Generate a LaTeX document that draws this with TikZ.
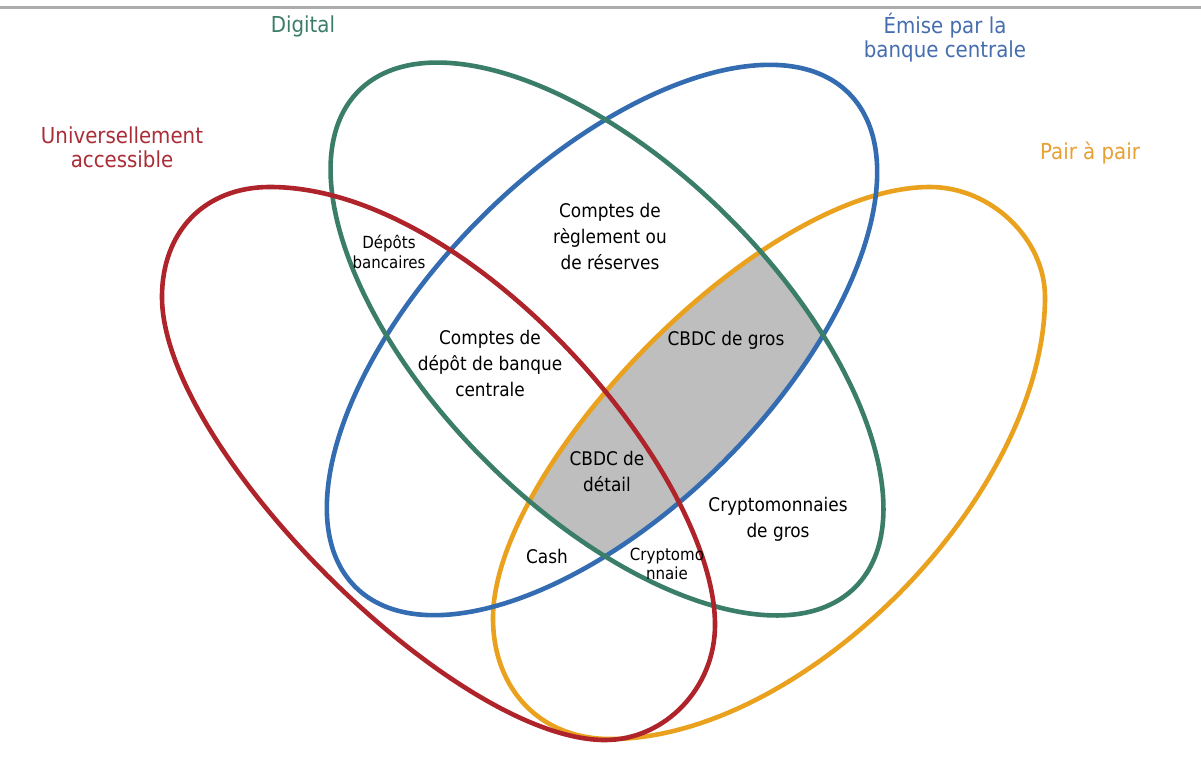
\documentclass[tikz,border=0pt]{standalone}
\usepackage{fontspec}
\setmainfont{DejaVu Sans}[FakeStretch=0.9]
\definecolor{redc}{RGB}{174,36,42}
\definecolor{greenc}{RGB}{58,125,104}
\definecolor{bluec}{RGB}{52,108,178}
\definecolor{orangec}{RGB}{234,162,30}
\definecolor{redt}{RGB}{170,45,55}
\definecolor{greent}{RGB}{60,125,105}
\definecolor{bluet}{RGB}{70,110,175}
\definecolor{oranget}{RGB}{232,160,50}
\definecolor{fillc}{RGB}{190,190,190}
\tikzset{
  setline/.style={line width=4.6pt},
  hdr/.style={align=center, inner sep=0pt, font=\fontsize{22}{24}\selectfont},
  lbl/.style={align=center, inner sep=0pt, font=\fontsize{18.8}{26}\selectfont},
  smalllbl/.style={align=center, inner sep=0pt, font=\fontsize{16.7}{19.5}\selectfont},
}
\begin{document}
\begin{tikzpicture}[x=1pt,y=-1pt]
\path[fill=white,use as bounding box] (0,0) rectangle (1201,758);
% top rule
\draw[gray!65, line width=3pt] (0,7) -- (1201,7);
% gray region: orange & blue & green
\begin{scope}
  \clip (930,187) .. controls (991,187) and (1045,239) .. (1045,297)
        .. controls (1045,495) and (804,739) .. (610,739)
        .. controls (540,739) and (493,689) .. (493,618)
        .. controls (493,467) and (760,187) .. (930,187) -- cycle;
  \clip[rotate around={45:(602,340)}] (602,340) ellipse [x radius=349, y radius=172];
  \fill[fillc, rotate around={-45:(607,339)}] (607,339) ellipse [x radius=351, y radius=172];
\end{scope}
% orange
\draw[orangec, setline] (930,187) .. controls (991,187) and (1045,239) .. (1045,297)
        .. controls (1045,495) and (804,739) .. (610,739)
        .. controls (540,739) and (493,689) .. (493,618)
        .. controls (493,467) and (760,187) .. (930,187) -- cycle;
% blue
\draw[bluec, setline, rotate around={45:(602,340)}] (602,340) ellipse [x radius=349, y radius=172];
% green
\draw[greenc, setline, rotate around={-45:(607,339)}] (607,339) ellipse [x radius=351, y radius=172];
% red
\draw[redc, setline] (162,297) .. controls (162,231) and (205,187) .. (270,187)
        .. controls (470,187) and (715,472) .. (715,625)
        .. controls (715,688) and (665,740) .. (605,740)
        .. controls (454,740) and (162,448) .. (162,297) -- cycle;
% headers
\node[hdr, text=greent] (digital) at (303,26) {Digital};
\node[hdr, text=bluet] (emise) at (945,38) {Émise par la\\banque centrale};
\node[hdr, text=redt] (univ) at (122,147) {Universellement\\accessible};
\node[hdr, text=oranget] (p2p) at (1090,153) {Pair à pair};
% region labels
\node[lbl] (reglement) at (610,236) {Comptes de\\règlement ou\\de réserves};
\node[smalllbl] (depots) at (389,252) {Dépôts\\bancaires};
\node[lbl] (cdbc) at (490,363) {Comptes de\\dépôt de banque\\centrale};
\node[lbl] (gros) at (726,340) {CBDC de gros};
\node[lbl] (detail) at (607,471) {CBDC de\\détail};
\node[lbl] (crypto) at (778,519) {Cryptomonnaies\\de gros};
\node[lbl] (cash) at (547,556) {Cash};
\node[smalllbl] (cryptomo) at (667,564) {Cryptomo\\nnaie};
\end{tikzpicture}
\end{document}
